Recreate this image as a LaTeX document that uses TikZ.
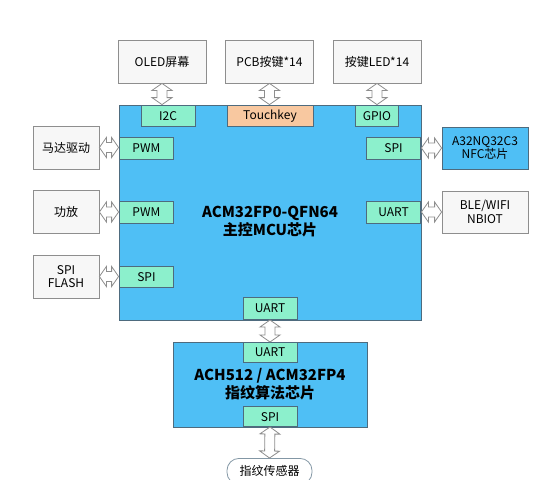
\documentclass[tikz,border=0pt]{standalone}
\usepackage{fontspec}
\setmainfont{Noto Sans CJK SC}
\usetikzlibrary{positioning,calc}
\definecolor{cChip}{HTML}{4FBFF5}
\definecolor{cChipLine}{HTML}{4E6B7E}
\definecolor{cPort}{HTML}{8CF0CC}
\definecolor{cTouch}{HTML}{F8C8A0}
\definecolor{cExt}{HTML}{F7F7F7}
\definecolor{cExtLine}{HTML}{8E8E8E}
\tikzset{
  base/.style={draw,align=center,inner sep=2pt,line width=0.8pt,font=\fontsize{12}{13.5}\selectfont},
  chip/.style={base,fill=cChip,draw=cChipLine},
  title/.style={align=center,inner sep=0pt,font=\fontsize{15}{18}\selectfont\bfseries},
  port/.style={base,fill=cPort,draw=cChipLine,minimum width=54pt,minimum height=21pt},
  tport/.style={port,fill=cTouch},
  ext/.style={base,fill=cExt,draw=cExtLine,minimum width=66pt,minimum height=43pt},
  dbl/.style={draw=cExtLine,fill=white,line width=0.8pt,
    to path={let \p1=(\tikztostart),\p2=(\tikztotarget),
      \n1={atan2(\y2-\y1,\x2-\x1)},\n2={veclen(\x2-\x1,\y2-\y1)} in
      [shift={(\p1)},rotate=\n1]
      (0,0) -- (7pt,10pt) -- (7pt,5pt) -- ({\n2*1pt-7pt},5pt) -- ({\n2*1pt-7pt},10pt)
      -- ({\n2*1pt},0) -- ({\n2*1pt-7pt},-10pt) -- ({\n2*1pt-7pt},-5pt)
      -- (7pt,-5pt) -- (7pt,-10pt) -- cycle}}}

\begin{document}
\begin{tikzpicture}[x=1pt,y=-1pt]
\clip (0,0) rectangle (551,479);
% main MCU
\node[chip,minimum width=302pt,minimum height=215pt] (mcu) at (270,212.5) {};
\node[title] (mcutitle) at (270,222) {ACM32FP0-QFN64\\主控MCU芯片};
\node[port,anchor=north] (i2c) at (168,105) {I2C};
\node[tport,anchor=north,minimum width=86pt] (touch) at (270,105) {Touchkey};
\node[port,anchor=north,minimum width=43pt] (gpio) at (377,105) {GPIO};
\node[port,anchor=west,minimum height=22pt] (pwma) at (119,148) {PWM};
\node[port,anchor=west,minimum height=22pt] (pwmb) at (119,212.5) {PWM};
\node[port,anchor=west] (spil) at (119,277) {SPI};
\node[port,anchor=east,minimum height=22pt] (spir) at (421,148) {SPI};
\node[port,anchor=east,minimum height=22pt] (uartr) at (421,212.5) {UART};
\node[port,anchor=south,minimum height=22pt] (uartm) at (270,320) {UART};
% peripherals
\node[ext,minimum width=88pt] (oled) at (162,61.5) {OLED屏幕};
\node[ext,minimum width=88pt] (pcb) at (269.5,61.5) {PCB按键*14};
\node[ext,minimum width=88pt] (led) at (377,61.5) {按键LED*14};
\node[ext] (motor) at (66,147.5) {马达驱动};
\node[ext] (amp) at (66,212) {功放};
\node[ext] (flash) at (66,276.5) {SPI\\FLASH};
\node[ext,fill=cChip,draw=cChipLine,minimum width=86pt,minimum height=42pt] (nfc) at (485,148) {A32NQ32C3\\NFC芯片};
\node[ext,minimum width=86pt,minimum height=42pt] (ble) at (485,212) {BLE/WIFI\\NBIOT};
% fingerprint chip
\node[chip,minimum width=194pt,minimum height=85pt] (fp) at (270,384.5) {};
\node[title] (fptitle) at (270,384.5) {ACH512 / ACM32FP4\\指纹算法芯片};
\node[port,anchor=north,minimum height=20pt] (uartf) at (270,342) {UART};
\node[port,anchor=south,minimum height=20pt] (spif) at (270,427) {SPI};
\node[base,draw=cChipLine!70,fill=white,rounded corners=12pt,anchor=north,
  minimum width=85pt,minimum height=26pt] (sensor) at (269.5,458) {指纹传感器};
% links
\draw[dbl] (oled.south) to (oled.south |- mcu.north);
\draw[dbl] (pcb.south) to (pcb.south |- mcu.north);
\draw[dbl] (led.south) to (led.south |- mcu.north);
\draw[dbl] (motor.east) to (motor.east -| mcu.west);
\draw[dbl] (amp.east) to (amp.east -| mcu.west);
\draw[dbl] (flash.east) to (flash.east -| mcu.west);
\draw[dbl] (nfc.west -| mcu.east) to (nfc.west);
\draw[dbl] (ble.west -| mcu.east) to (ble.west);
\draw[dbl] (uartm.south) to (uartf.north);
\draw[dbl] (spif.south) to (sensor.north);
\end{tikzpicture}
\end{document}
